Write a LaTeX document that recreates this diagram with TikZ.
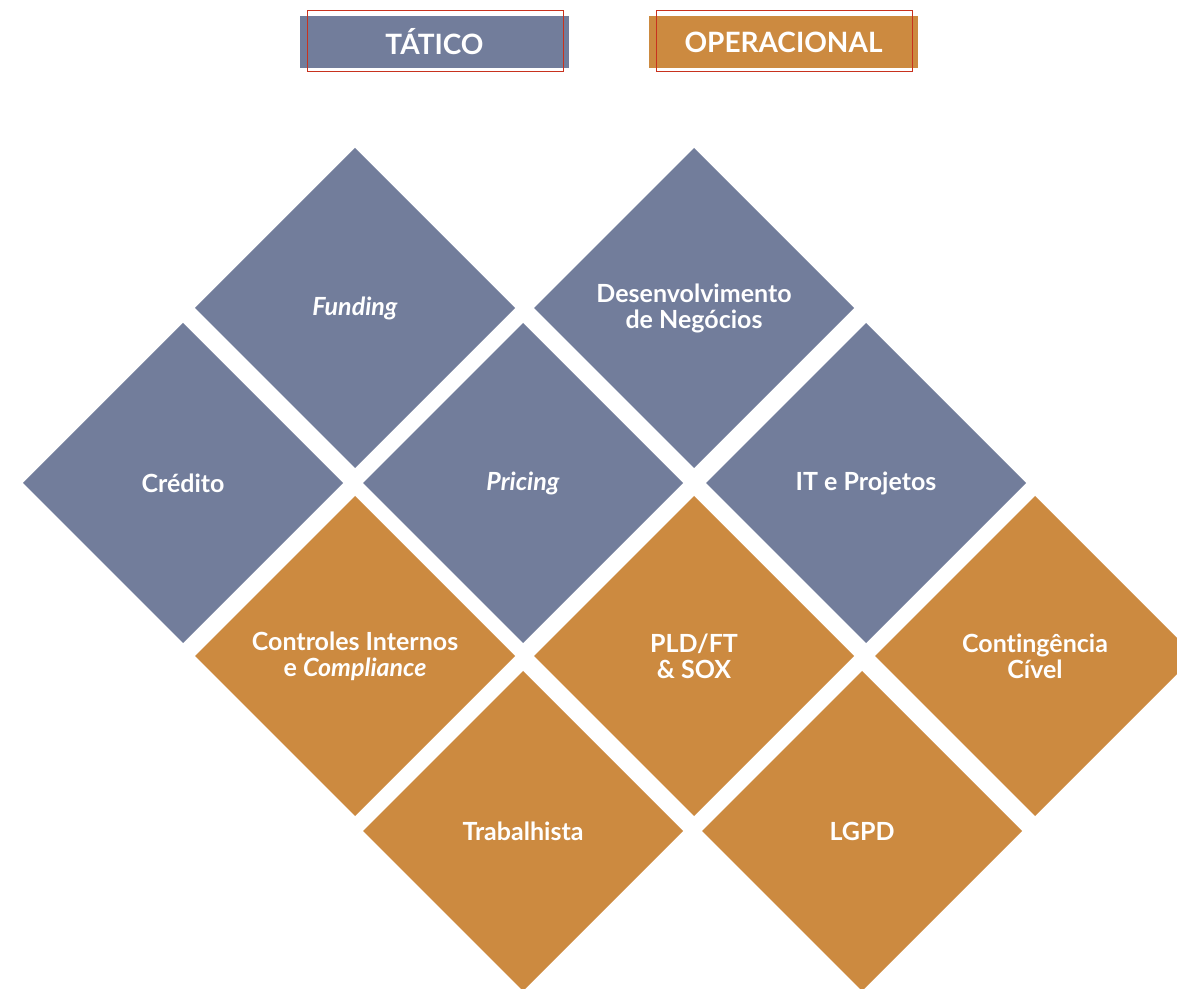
\documentclass[tikz,border=0pt]{standalone}
\usepackage{fontspec}
\setmainfont[Ligatures=NoCommon]{Lato}
\usetikzlibrary{shapes.geometric}
\definecolor{tatico}{RGB}{114,125,155}
\definecolor{oper}{RGB}{204,138,64}
\definecolor{redline}{RGB}{200,50,30}
\begin{document}
\begin{tikzpicture}[x=1pt,y=1pt,
 dia/.style={diamond, aspect=1, inner sep=0pt, outer sep=0pt, minimum width=320pt, minimum height=320pt, text=white, font=\bfseries\fontsize{25}{26}\selectfont, align=center},
 tacbox/.style={dia, fill=tatico},
 opbox/.style={dia, fill=oper},
 hdr/.style={minimum width=269pt, minimum height=52pt, inner sep=0pt, text=white, font=\bfseries\fontsize{28}{30}\selectfont},
 frame/.style={draw=redline, line width=1pt, minimum width=256pt, minimum height=61pt, inner sep=0pt}]
\useasboundingbox (0,0) rectangle (1177,988);
\clip (0,0) rectangle (1177,988);
% headers
\node[hdr, fill=tatico] (htat) at (434.5,946) {TÁTICO};
\node[frame] (ftat) at (435,946.5) {};
\node[hdr, fill=oper] (hop) at (783.5,946) {OPERACIONAL};
\node[frame] (fop) at (784,946.5) {};
% diamonds (y' = 988 - y)
\node[tacbox] (funding) at (355,680) {\textit{Funding}};
\node[tacbox] (desenv) at (694,680) {Desenvolvimento\\de Negócios};
\node[tacbox] (credito) at (183,505) {Crédito};
\node[tacbox] (pricing) at (523,505) {\textit{Pricing}};
\node[tacbox] (itproj) at (866,505) {IT e Projetos};
\node[opbox] (controles) at (355,332) {Controles Internos\\e \textit{Compliance}};
\node[opbox] (pld) at (694,332) {PLD/FT\\\& SOX};
\node[opbox] (conting) at (1035,332) {Contingência\\Cível};
\node[opbox] (trab) at (523,157) {Trabalhista};
\node[opbox] (lgpd) at (862,157) {LGPD};
\end{tikzpicture}
\end{document}
